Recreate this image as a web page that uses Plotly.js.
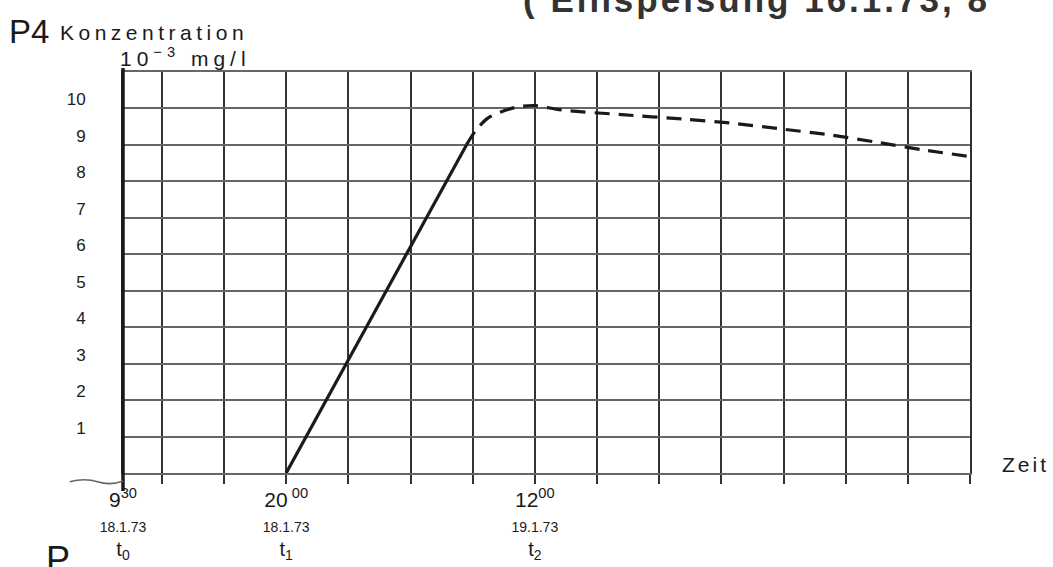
<!DOCTYPE html>
<html>
<head>
<meta charset="utf-8">
<script src="https://cdn.plot.ly/plotly-3.0.1.min.js"></script>
<style>
  html, body { margin: 0; padding: 0; background: #fff; }
  #chart { width: 1053px; height: 567px; }
</style>
</head>
<body>
<div id="chart"></div>
<script>
// ---- data ----
// rising phase (solid line): time, concentration [10^-3 mg/l]
var riseTime = ['1973-01-18 20:00', '1973-01-19 07:36'];
var riseConc = [0, 9.0];

// plateau / decline (dashed line)
var plateauTime = ['1973-01-19 07:36', '1973-01-19 08:12', '1973-01-19 09:00', '1973-01-19 10:06',
                   '1973-01-19 11:00', '1973-01-19 12:00', '1973-01-19 13:42', '1973-01-19 17:36',
                   '1973-01-19 21:30', '1973-01-20 00:48', '1973-01-20 04:00', '1973-01-20 07:06',
                   '1973-01-20 09:54', '1973-01-20 12:54', '1973-01-20 16:00'];
var plateauConc = [9.0, 9.4, 9.74, 9.95, 10.05, 10.08, 9.96, 9.83, 9.71, 9.59, 9.43, 9.27, 9.08, 8.87, 8.68];

// x ticks (t0, t1, t2)
var xTickVals = ['1973-01-18 09:30', '1973-01-18 20:00', '1973-01-19 12:00'];
var xTickTime = ['9<sup>30</sup>', '20<sup> 00</sup>', '12<sup>00</sup>'];
var xTickDate = ['18.1.73', '18.1.73', '19.1.73'];
var xTickName = ['t<sub>0</sub>', 't<sub>1</sub>', 't<sub>2</sub>'];
var xRange = ['1973-01-18 09:30', '1973-01-20 16:00'];
var gridStart = '1973-01-18 12:00';

// y ticks
var yTickVals = [0, 1, 2, 3, 4, 5, 6, 7, 8, 9, 10, 11];
var yTickText = ['', '1', '2', '3', '4', '5', '6', '7', '8', '9', '10', ''];

var xTickText = xTickVals.map(function (v, i) {
  return '<span style="font-size:21px">' + xTickTime[i] + '</span><br>' +
         '<span style="font-size:14px">' + xTickDate[i] + '</span><br>' +
         '<span style="font-size:20px">' + xTickName[i] + '</span>';
});

var FONT = '"Liberation Sans", Arial, sans-serif';
var INK = '#1a1a1a';
var VGRID = '#333333';
var HGRID = '#666666';

var traces = [
  {
    type: 'scatter', mode: 'lines',
    x: riseTime, y: riseConc,
    line: { color: INK, width: 3.2 },
    hoverinfo: 'skip', showlegend: false
  },
  {
    type: 'scatter', mode: 'lines',
    x: plateauTime, y: plateauConc,
    line: { color: INK, width: 3.2, dash: '15px,9px', shape: 'spline', smoothing: 0.8 },
    hoverinfo: 'skip', showlegend: false
  }
];

var layout = {
  width: 1053, height: 567,
  margin: { l: 123, r: 83, t: 72, b: 94 },
  paper_bgcolor: '#ffffff', plot_bgcolor: '#ffffff',
  font: { family: FONT, color: INK, size: 15 },
  showlegend: false,
  xaxis: {
    type: 'date',
    range: xRange,
    tickmode: 'array',
    tickvals: xTickVals,
    ticktext: xTickText,
    tickfont: { family: FONT, size: 19, color: INK },
    ticks: 'outside', ticklen: 9, tickwidth: 2, tickcolor: VGRID,
    showgrid: true, gridcolor: VGRID, gridwidth: 2,
    minor: {
      tick0: gridStart, dtick: 4 * 3600 * 1000,
      showgrid: true, gridcolor: VGRID, gridwidth: 2,
      ticks: 'outside', ticklen: 9, tickwidth: 2, tickcolor: VGRID
    },
    showline: true, linecolor: HGRID, linewidth: 2, mirror: true,
    zeroline: false, fixedrange: true
  },
  yaxis: {
    range: [0, 11],
    tickmode: 'array',
    tickvals: yTickVals,
    ticktext: yTickText,
    tickfont: { family: FONT, size: 17, color: INK },
    ticks: '',
    ticklabelstandoff: 32,
    ticklabelshift: -9,
    showgrid: true, gridcolor: HGRID, gridwidth: 2,
    showline: true, linecolor: VGRID, linewidth: 2, mirror: true,
    zeroline: false, fixedrange: true
  },
  shapes: [
    // thick ordinate line, extending slightly below the baseline
    { type: 'line', xref: 'paper', yref: 'paper', x0: 0, x1: 0, y0: -0.045, y1: 1.01,
      line: { color: INK, width: 3.5 } },
    // baseline continuing to the left of the ordinate
    { type: 'path', xref: 'paper', yref: 'paper',
      path: 'M -0.063 -0.022 Q -0.045 -0.012 -0.03 -0.022 T 0 -0.02',
      line: { color: HGRID, width: 1.6 } }
  ],
  annotations: [
    { xref: 'paper', yref: 'paper', x: -0.137, y: 1.05, xanchor: 'left', yanchor: 'bottom',
      text: 'P4', showarrow: false, font: { family: FONT, size: 33, color: INK } },
    { xref: 'paper', yref: 'paper', x: -0.077, y: 1.065, xanchor: 'left', yanchor: 'bottom',
      text: '<span style="letter-spacing:4.5px">Konzentration</span>', showarrow: false,
      font: { family: FONT, size: 21, color: INK } },
    { xref: 'paper', yref: 'paper', x: -0.006, y: 1.0, xanchor: 'left', yanchor: 'bottom',
      text: '<span style="letter-spacing:5px">10<sup>−3</sup> mg/l</span>', showarrow: false,
      font: { family: FONT, size: 21, color: INK } },
    { xref: 'paper', yref: 'paper', x: 1.035, y: 0.02, xanchor: 'left', yanchor: 'middle',
      text: '<span style="letter-spacing:3px">Zeit</span>', showarrow: false,
      font: { family: FONT, size: 21, color: INK } },
    { xref: 'paper', yref: 'paper', x: 0.47, y: 1.127, xanchor: 'left', yanchor: 'bottom',
      text: '<b><span style="letter-spacing:3px">( Einspeisung 16.1.73, 8</span></b>', showarrow: false,
      font: { family: FONT, size: 35, color: '#333' } },
    { xref: 'paper', yref: 'paper', x: -0.093, y: -0.16, xanchor: 'left', yanchor: 'top',
      text: 'P', showarrow: false, font: { family: FONT, size: 36, color: INK } }
  ]
};

Plotly.newPlot('chart', traces, layout, { displayModeBar: false, staticPlot: true });
</script>
</body>
</html>
